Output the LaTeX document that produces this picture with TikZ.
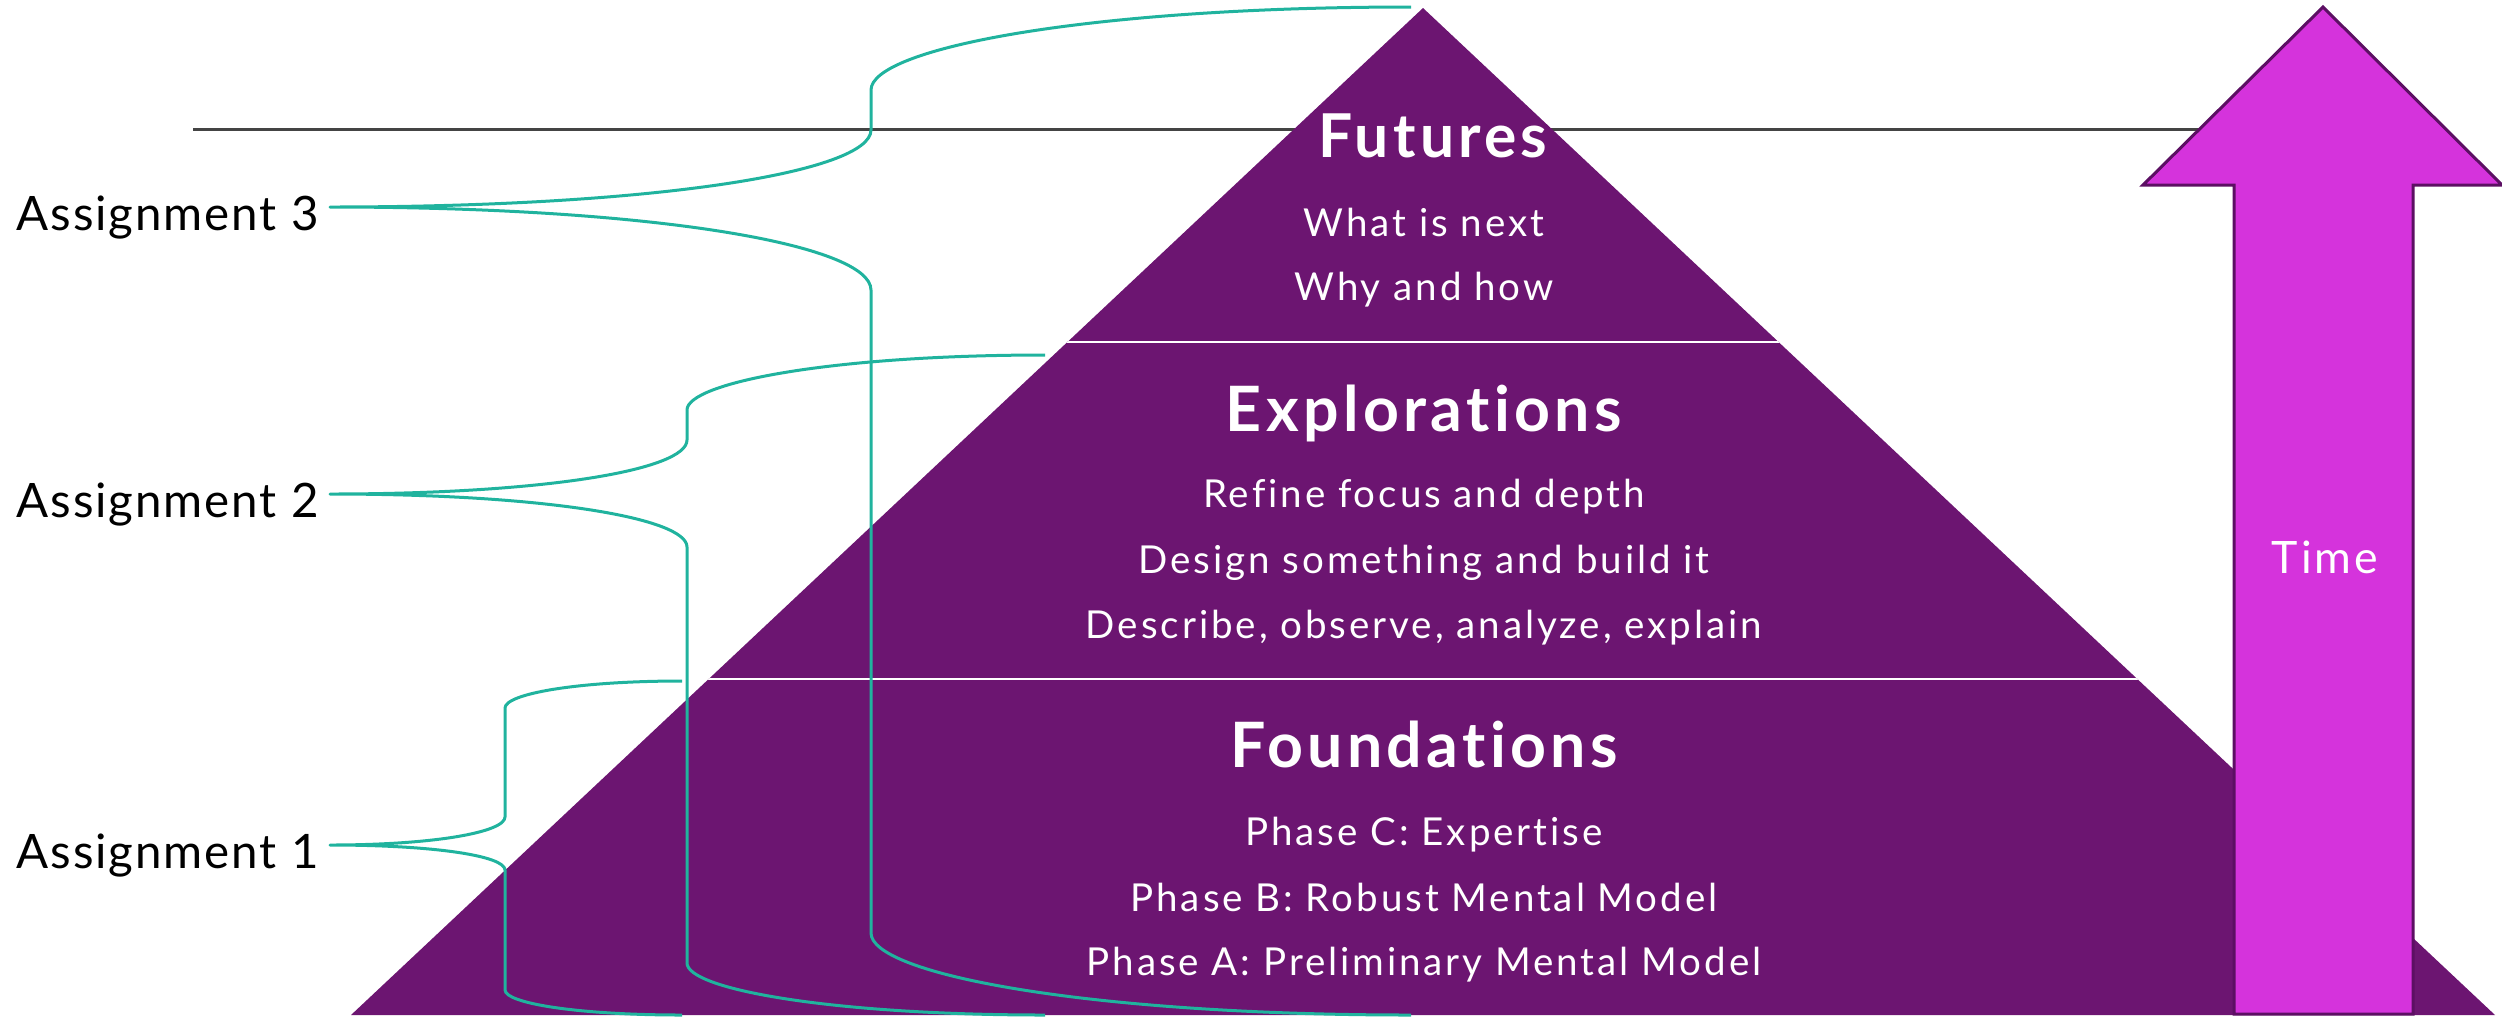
\documentclass[tikz,border=0pt]{standalone}
\usepackage{fontspec}
\setmainfont{Lato}
\newfontfamily\tierbody{Lato}[LetterSpace=7.6, Ligatures=NoCommon]
\newfontfamily\tierhead{Lato}[LetterSpace=7, Ligatures=NoCommon]
\newfontfamily\sidefont{Lato}[LetterSpace=4, Ligatures=NoCommon]
\newfontfamily\timefont{Lato}[LetterSpace=7, Ligatures=NoCommon]
\definecolor{pyr}{HTML}{6C1571}
\definecolor{arrowfill}{HTML}{D533DC}
\definecolor{arrowline}{HTML}{5C0F63}
\definecolor{bracecol}{HTML}{20B39E}
\definecolor{rulecol}{HTML}{444444}
\begin{document}
\begin{tikzpicture}[x=0.01cm,y=-0.01cm,
  tiertext/.style={text=white, inner sep=0pt, anchor=base,
    font=\tierbody\fontsize{10.95pt}{13pt}\selectfont},
  tiertitle/.style={text=white, inner sep=0pt, anchor=base,
    font=\tierhead\bfseries\fontsize{17.8pt}{20pt}\selectfont},
  assign/.style={inner sep=0pt, anchor=base west,
    font=\sidefont\fontsize{13.5pt}{15pt}\selectfont},
  brace/.style={draw=bracecol, line width=0.03cm, line join=round},
  divider/.style={draw=white, line width=0.028cm},
  ]
\useasboundingbox (0,0) rectangle (2502,1017);

% horizontal reference rule, behind the pyramid and the arrow
\coordinate (ruleL) at (193,129);
\coordinate (ruleR) at (2250,129);
\draw[rulecol, line width=0.03cm] (ruleL) -- (ruleR);

% pyramid
\coordinate (apex) at (1423,8);
\coordinate (bl) at (351,1015);
\coordinate (br) at (2495,1015);
\fill[pyr] (apex) -- (br) -- (bl) -- cycle;
\begin{scope}
  \clip (apex) -- (br) -- (bl) -- cycle;
  \draw[divider] (300,342) -- (2600,342);
  \draw[divider] (300,679) -- (2600,679);
\end{scope}

% tier texts
\node[tiertitle, font=\tierhead\bfseries\fontsize{17.2pt}{20pt}\selectfont] (fut) at (1433,157) {Futures};
\node[tiertext] (fut1) at (1424,236) {What is next};
\node[tiertext] (fut2) at (1424,300) {Why and how};

\node[tiertitle] (exp) at (1424,431) {Explorations};
\node[tiertext] (exp1) at (1424,507) {Refine focus and depth};
\node[tiertext] (exp2) at (1424,573) {Design something and build it};
\node[tiertext] (exp3) at (1424,638) {Describe, observe, analyze, explain};

\node[tiertitle] (fnd) at (1424,767) {Foundations};
\node[tiertext] (fnd1) at (1424,845) {Phase C: Expertise};
\node[tiertext] (fnd2) at (1424,911) {Phase B: Robust Mental Model};
\node[tiertext] (fnd3) at (1424,975) {Phase A: Preliminary Mental Model};

% time arrow
\draw[fill=arrowfill, draw=arrowline, line width=0.03cm, line join=miter]
  (2234,1014) -- (2234,185) -- (2143,185) -- (2323,7) -- (2502,185)
  -- (2413,185) -- (2413,1014) -- cycle;
\node[text=white, inner sep=0pt, anchor=base,
  font=\timefont\fontsize{12.7pt}{14pt}\selectfont] (time) at (2325,573) {Time};

% assignment labels
\node[assign] (a3) at (16,230) {Assignment 3};
\node[assign] (a2) at (16,517) {Assignment 2};
\node[assign] (a1) at (16,868) {Assignment 1};

% brace of assignment 3
\coordinate (t3) at (330,207);
\coordinate (u3a) at (871,130);  \coordinate (u3b) at (871,90);
\coordinate (e3top) at (1411,7);
\coordinate (l3a) at (871,290);  \coordinate (l3b) at (871,933);
\coordinate (e3bot) at (1411,1015);
\draw[brace] (e3top) to[out=180, in=90, out distance=3.24cm, in distance=0.415cm] (u3b)
  -- (u3a) to[out=-90, in=0, out distance=0.42cm, in distance=3.25cm] (t3)
  to[out=0, in=90, out distance=3.25cm, in distance=0.45cm] (l3a)
  -- (l3b) to[out=-90, in=180, out distance=0.41cm, in distance=3.24cm] (e3bot);

% brace of assignment 2
\coordinate (t2) at (330,494);
\coordinate (u2a) at (687,440);  \coordinate (u2b) at (687,410);
\coordinate (e2top) at (1045,355);
\coordinate (l2a) at (687,547);  \coordinate (l2b) at (687,963);
\coordinate (e2bot) at (1045,1015);
\draw[brace] (e2top) to[out=180, in=90, out distance=2.15cm, in distance=0.27cm] (u2b)
  -- (u2a) to[out=-90, in=0, out distance=0.3cm, in distance=2.14cm] (t2)
  to[out=0, in=90, out distance=2.14cm, in distance=0.29cm] (l2a)
  -- (l2b) to[out=-90, in=180, out distance=0.26cm, in distance=2.15cm] (e2bot);

% brace of assignment 1
\coordinate (t1) at (330,845);
\coordinate (u1a) at (505,817);  \coordinate (u1b) at (505,708);
\coordinate (e1top) at (682,681);
\coordinate (l1a) at (505,870);  \coordinate (l1b) at (505,990);
\coordinate (e1bot) at (682,1015);
\draw[brace] (e1top) to[out=180, in=90, out distance=1.06cm, in distance=0.14cm] (u1b)
  -- (u1a) to[out=-90, in=0, out distance=0.15cm, in distance=1.05cm] (t1)
  to[out=0, in=90, out distance=1.05cm, in distance=0.14cm] (l1a)
  -- (l1b) to[out=-90, in=180, out distance=0.13cm, in distance=1.06cm] (e1bot);
\end{tikzpicture}
\end{document}
